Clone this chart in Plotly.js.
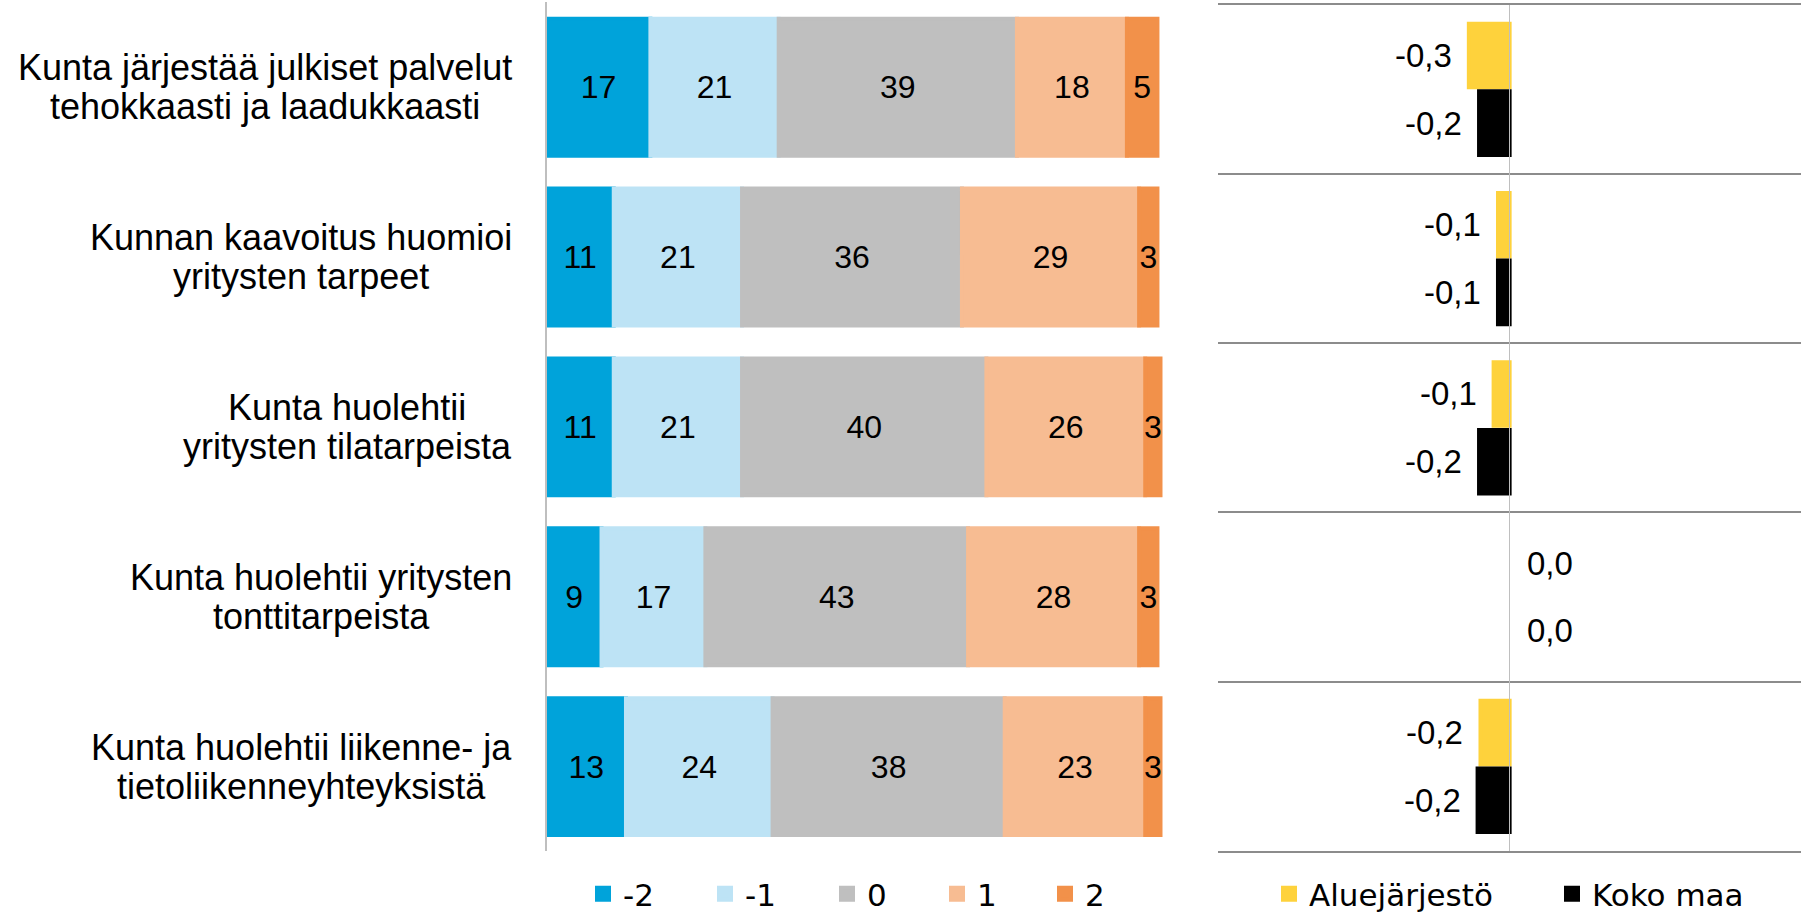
<!DOCTYPE html>
<html>
<head>
<meta charset="utf-8">
<script src="https://cdn.plot.ly/plotly-3.0.1.min.js"></script>
<style>
html, body { margin: 0; padding: 0; background: #ffffff; }
#chart { width: 1802px; height: 915px; }
</style>
</head>
<body>
<div id="chart"></div>
<script>
// ---- data ----
const categories = [
  'Kunta järjestää julkiset palvelut<br>tehokkaasti ja laadukkaasti',
  'Kunnan kaavoitus huomioi<br>yritysten tarpeet',
  'Kunta huolehtii<br>yritysten tilatarpeista',
  'Kunta huolehtii yritysten<br>tonttitarpeista',
  'Kunta huolehtii liikenne- ja<br>tietoliikenneyhteyksistä'
];
const scaleLabels = ['-2', '-1', '0', '1', '2'];
const valMinus2 = [17, 11, 11, 9, 13];
const valMinus1 = [21, 21, 21, 17, 24];
const valZero   = [39, 36, 40, 43, 38];
const valPlus1  = [18, 29, 26, 28, 23];
const valPlus2  = [5, 3, 2.5, 3, 2.5];

const compNames = ['Aluejärjestö', 'Koko maa'];
const regionMean  = [-0.28, -0.08, -0.11, 0.0, -0.20];
const countryMean = [-0.21, -0.08, -0.21, 0.0, -0.22];

// ---- styles ----
const scaleColors = ['#00A3DA', '#BDE3F5', '#BFBFBF', '#F7BC92', '#F2914A'];
const compColors = ['#FED23C', '#000000'];
const legendWidthsLeft = [77, 77, 65, 63, 60];
const legendWidthsRight = [238, 150];
const textFont = 'Liberation Sans, Arial, sans-serif';
const legendFont = 'DejaVu Sans, sans-serif';

const seriesLeft = [valMinus2, valMinus1, valZero, valPlus1, valPlus2];
const traces = [];
const cum = categories.map(() => 0);
seriesLeft.forEach((vals, k) => {
  traces.push({
    type: 'bar', orientation: 'h',
    x: vals, y: categories, base: cum.slice(),
    xaxis: 'x', yaxis: 'y',
    name: scaleLabels[k],
    width: 0.806, offset: -0.403,
    marker: { color: scaleColors[k], line: { color: scaleColors[k], width: 4 } },
    text: vals.map(v => String(Math.round(v))),
    textposition: 'inside', insidetextanchor: 'middle', textangle: 0, constraintext: 'none',
    insidetextfont: { family: textFont, size: 32, color: '#000000' },
    legend: 'legend', legendwidth: legendWidthsLeft[k],
    hoverinfo: 'skip'
  });
  vals.forEach((v, i) => { cum[i] += v; });
});

const seriesRight = [regionMean, countryMean];
const offsetsRight = [-0.388, 0.012];
seriesRight.forEach((vals, k) => {
  traces.push({
    type: 'bar', orientation: 'h',
    x: vals, y: categories,
    xaxis: 'x2', yaxis: 'y2',
    name: compNames[k],
    width: 0.376, offset: offsetsRight[k],
    marker: { color: compColors[k], line: { color: compColors[k], width: vals.map(v => v === 0 ? 0 : 4) } },
    textposition: 'none',
    legend: 'legend2', legendwidth: legendWidthsRight[k],
    hoverinfo: 'skip'
  });
});

const fmt = v => v.toFixed(1).replace('.', ',');
const annotations = [];
categories.forEach(c => {
  annotations.push({
    xref: 'paper', yref: 'y', x: 514 / 1802, y: c,
    xanchor: 'right', yanchor: 'middle', align: 'center', showarrow: false,
    text: c.split('<br>').map(s => '<span style="font-size:36px">' + s + '</span>').join('<br>'),
    font: { family: textFont, size: 30, color: '#000000' }
  });
});
seriesRight.forEach((vals, k) => {
  vals.forEach((v, i) => {
    annotations.push({
      xref: 'x2', yref: 'y2', x: v, y: i + offsetsRight[k] + 0.188,
      xanchor: v < 0 ? 'right' : 'left', xshift: v < 0 ? -15 : 15,
      yanchor: 'middle', showarrow: false,
      text: fmt(v),
      font: { family: textFont, size: 33, color: '#000000' }
    });
  });
});

const layout = {
  width: 1802, height: 915,
  margin: { l: 0, r: 0, t: 0, b: 0, autoexpand: false },
  paper_bgcolor: '#ffffff', plot_bgcolor: 'rgba(0,0,0,0)',
  barmode: 'group',
  font: { family: textFont, color: '#000000' },
  showlegend: true,
  xaxis: { domain: [0.3033, 0.6457], range: [0, 101], showgrid: false, zeroline: false,
           showticklabels: false, showline: false, ticks: '', anchor: 'y' },
  yaxis: { domain: [0.0694, 0.9975], type: 'category', autorange: 'reversed', anchor: 'x',
           showline: true, linecolor: '#BFBFBF', linewidth: 1.5, showgrid: false,
           showticklabels: false, ticks: '' },
  xaxis2: { domain: [0.6761, 0.9994], range: [-2, 2], anchor: 'y2', showgrid: false,
            zeroline: true, zerolinecolor: '#BFBFBF', zerolinewidth: 1.5,
            zerolinelayer: 'above traces',
            showticklabels: false, ticks: '', showline: true, mirror: true,
            linecolor: '#8C8C8C', linewidth: 2 },
  yaxis2: { domain: [0.0699, 0.9949], type: 'category', autorange: 'reversed', anchor: 'x2',
            tickson: 'boundaries', showgrid: true, gridcolor: '#8C8C8C', gridwidth: 2,
            showticklabels: false, ticks: '', showline: false, zeroline: false },
  legend: { orientation: 'h', x: 583 / 1802, xanchor: 'left', y: 21 / 915, yanchor: 'middle',
            font: { family: legendFont, size: 31, color: '#000000' }, bgcolor: 'rgba(0,0,0,0)',
            traceorder: 'normal' },
  legend2: { orientation: 'h', x: 1269 / 1802, xanchor: 'left', y: 21 / 915, yanchor: 'middle',
             font: { family: legendFont, size: 31, color: '#000000' }, bgcolor: 'rgba(0,0,0,0)',
             traceorder: 'normal' },
  annotations: annotations
};

Plotly.newPlot('chart', traces, layout, { displayModeBar: false, staticPlot: true });
</script>
</body>
</html>
